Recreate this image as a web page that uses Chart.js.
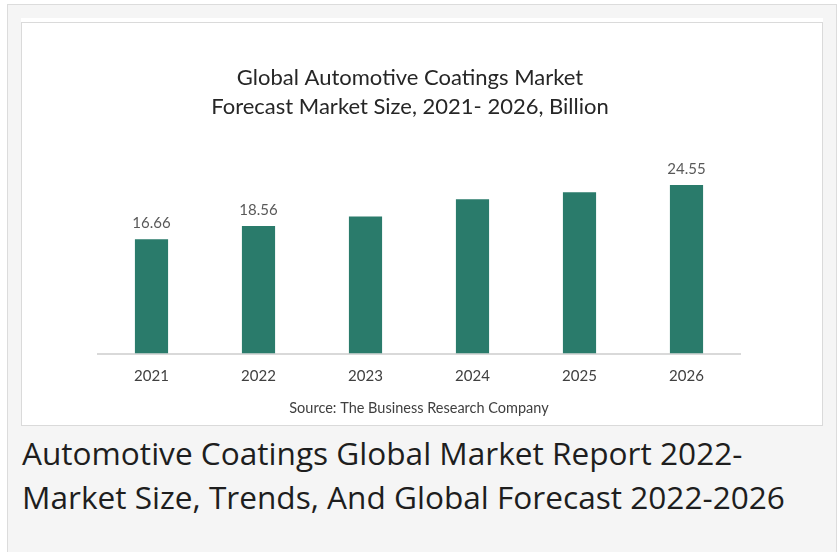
<!DOCTYPE html>
<html>
<head>
<meta charset="utf-8">
<script src="https://cdn.jsdelivr.net/npm/chart.js@4"></script>
<style>
  html, body { margin: 0; padding: 0; background: #ffffff; }
  body { width: 840px; height: 552px; position: relative; overflow: hidden; }
  #outer { position: absolute; left: 7px; top: 4px; width: 828px; height: 560px; background: #f5f5f5; border: 1px solid #dcdcdc; }
  #panel { position: absolute; left: 21px; top: 18px; width: 802px; height: 408px; background: #ffffff; }
  #frame { position: absolute; left: 0; top: 4px; width: 800px; height: 402px; border: 1px solid #dadada; }
  #wrap { position: absolute; left: 22px; top: 23px; width: 800px; height: 401px; }
  #caption { position: absolute; left: 22px; top: 431px; width: 810px; font-family: "Open Sans", sans-serif; font-size: 31.6px; line-height: 44px; color: #1e1e1e; white-space: nowrap; }
</style>
</head>
<body>
<div id="outer"></div>
<div id="panel"><div id="frame"></div></div>
<div id="wrap"><canvas id="c"></canvas></div>
<div id="caption">Automotive Coatings Global Market Report 2022-<br>Market Size, Trends, And Global Forecast 2022-2026</div>
<script>
const categories = ['2021', '2022', '2023', '2024', '2025', '2026'];
const marketSize = [16.66, 18.56, 19.95, 22.47, 23.49, 24.55];
const shownLabels = ['16.66', '18.56', '', '', '', '24.55'];
const titleLines = ['Global Automotive Coatings Market', 'Forecast Market Size, 2021- 2026, Billion'];
const sourceText = 'Source: The Business Research Company';

const valueLabels = {
  id: 'valueLabels',
  afterDatasetsDraw(chart) {
    const ctx = chart.ctx;
    const meta = chart.getDatasetMeta(0);
    ctx.save();
    ctx.font = '15px Lato';
    ctx.fillStyle = '#595959';
    ctx.textAlign = 'center';
    ctx.textBaseline = 'middle';
    meta.data.forEach((bar, i) => {
      if (shownLabels[i]) ctx.fillText(shownLabels[i], bar.x, bar.y - 16);
    });
    ctx.restore();
  }
};

new Chart(document.getElementById('c'), {
  type: 'bar',
  data: {
    labels: categories,
    datasets: [{
      data: marketSize,
      backgroundColor: '#2a7b6b',
      borderWidth: 0,
      barPercentage: 0.31,
      categoryPercentage: 1
    }]
  },
  options: {
    responsive: true,
    maintainAspectRatio: false,
    animation: false,
    layout: { padding: { left: 58, right: 82, top: 0, bottom: 6 } },
    plugins: {
      legend: { display: false },
      tooltip: { enabled: false },
      title: {
        display: true,
        text: titleLines,
        color: '#262626',
        font: { family: 'Lato', size: 22, weight: 'normal', lineHeight: 1.318 },
        padding: { top: 40.5, bottom: 26 }
      }
    },
    scales: {
      x: {
        grid: { display: false, drawTicks: false },
        border: { display: true, color: '#d9d9d9', width: 2 },
        ticks: { color: '#404040', font: { family: 'Lato', size: 15 }, padding: 14 },
        title: {
          display: true,
          text: sourceText,
          color: '#404040',
          font: { family: 'Lato', size: 14.5 },
          padding: { top: 0, bottom: 1 }
        }
      },
      y: {
        min: 0,
        max: 30,
        grid: { display: false, drawTicks: false },
        border: { display: false },
        ticks: { display: false },
        afterFit(scale) { scale.width = 18; }
      }
    }
  },
  plugins: [valueLabels]
});
</script>
</body>
</html>
